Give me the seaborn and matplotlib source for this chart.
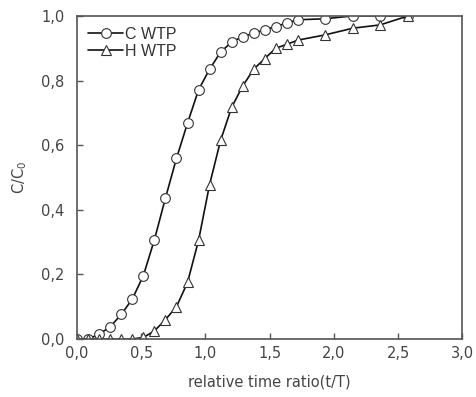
import numpy as np
import pandas as pd
import matplotlib
matplotlib.use("Agg")
import matplotlib.pyplot as plt
import seaborn as sns
from matplotlib.ticker import FuncFormatter, MultipleLocator

# data
t_ratio = [0.0, 0.086, 0.172, 0.258, 0.344, 0.43, 0.516, 0.602, 0.688, 0.774,
           0.86, 0.946, 1.032, 1.118, 1.204, 1.29, 1.376, 1.462, 1.548, 1.634,
           1.72, 1.93, 2.15, 2.36, 2.58]
c_wtp = [0.0, 0.0, 0.015, 0.038, 0.076, 0.124, 0.196, 0.307, 0.436, 0.559,
         0.668, 0.771, 0.835, 0.888, 0.919, 0.936, 0.946, 0.957, 0.967, 0.978,
         0.988, 0.991, 1.0, 1.0, 1.0]
h_wtp = [0.0, 0.0, 0.0, 0.0, 0.0, 0.0, 0.005, 0.025, 0.06, 0.10,
         0.175, 0.305, 0.478, 0.615, 0.717, 0.783, 0.835, 0.868, 0.90, 0.912,
         0.925, 0.941, 0.962, 0.972, 1.0]
series_names = ["C WTP", "H WTP"]

df = pd.DataFrame({"t": t_ratio, "C WTP": c_wtp, "H WTP": h_wtp})

sns.set_style("ticks")
plt.rcParams['font.family'] = ['DejaVu Sans']

fig = plt.figure(figsize=(4.76, 3.97), dpi=100)
ax = fig.add_axes([0.162, 0.146, 0.809, 0.814])

markers = {"C WTP": "o", "H WTP": "^"}
for name in series_names:
    sns.lineplot(data=df, x="t", y=name, ax=ax, color="#111111", linewidth=1.2,
                 marker=markers[name], markersize=7, markerfacecolor="white",
                 markeredgecolor="#333333", markeredgewidth=0.8, label=name)

ax.set_xlim(0, 3.0)
ax.set_ylim(0, 1.0)
ax.xaxis.set_major_locator(MultipleLocator(0.5))
ax.yaxis.set_major_locator(MultipleLocator(0.2))
comma = FuncFormatter(lambda v, p: f"{v:.1f}".replace(".", ","))
ax.xaxis.set_major_formatter(comma)
ax.yaxis.set_major_formatter(comma)
ax.tick_params(direction="in", length=4, width=1, colors="#555555",
               labelcolor="#444444", labelsize=10.5)
ax.tick_params(axis="x", pad=5)
ax.tick_params(axis="y", pad=9)

for side in ["top", "right", "bottom", "left"]:
    ax.spines[side].set_visible(True)
    ax.spines[side].set_color("#555555")
    ax.spines[side].set_linewidth(1.2)

ax.set_xlabel("relative time ratio(t/T)", fontsize=10.5, color="#444444", labelpad=10)
ax.set_ylabel(r"C/C$\mathregular{_0}$", fontsize=10.5, color="#444444", labelpad=9)

leg = ax.legend(loc="upper left", frameon=False, handlelength=2.2,
                handletextpad=0.1, labelspacing=0.1, borderaxespad=0.3,
                prop={"family": "Liberation Sans", "size": 11.5})
for txt in leg.get_texts():
    txt.set_color("#333333")

fig.savefig("out.png", dpi=100)
